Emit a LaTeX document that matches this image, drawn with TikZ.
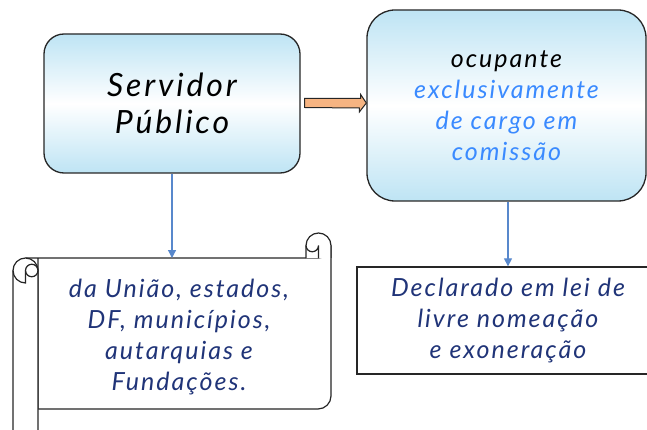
\documentclass[tikz,border=0pt]{standalone}
\usepackage{fontspec}
\setmainfont{Lato}[LetterSpace=8]
\newfontfamily\bigfam{Lato}[LetterSpace=9]
\usetikzlibrary{arrows.meta,calc}
\definecolor{navy}{RGB}{32,52,120}
\definecolor{brightblue}{RGB}{58,138,255}
\definecolor{boxblue}{RGB}{190,228,244}
\definecolor{linkblue}{RGB}{88,136,204}
\definecolor{peach}{RGB}{246,180,130}
\tikzset{
  gradbox/.style={draw=black!85, line width=1.3pt, top color=boxblue, bottom color=boxblue, middle color=white, align=center, inner sep=0pt},
  plainbox/.style={draw=black!85, line width=1.3pt, fill=white, align=center, inner sep=0pt},
  link/.style={draw=linkblue, line width=1.2pt, -{Triangle[length=8pt,width=8pt]}},
  scrollline/.style={draw=black!85, line width=1.2pt},
  bigtext/.style={font=\bigfam\fontsize{32}{37}\selectfont\itshape},
  midtext/.style={font=\fontsize{25}{31}\selectfont\itshape, align=center},
}
\begin{document}
\begin{tikzpicture}[x=1pt,y=-1pt]
\useasboundingbox (0,0) rectangle (647,430);
\clip (0,0) rectangle (647,430);
% top boxes
\node[gradbox, rounded corners=20pt, minimum width=256pt, minimum height=139pt, bigtext] (serv) at (172,103.5) {Servidor\\Público};
\node[gradbox, rounded corners=28pt, minimum width=279pt, minimum height=191pt, midtext] (ocup) at (506.5,105.5) {ocupante\\\textcolor{brightblue}{exclusivamente}\\\textcolor{brightblue}{de cargo em}\\\textcolor{brightblue}{comissão}};
% bottom right box
\node[plainbox, minimum width=302pt, minimum height=107pt, midtext, text=navy] (decl) at (508,320.5) {Declarado em lei de\\livre nomeação\\e exoneração};
% scroll
\draw[scrollline, fill=white] (25.5,258) -- (318.5,258) arc[start angle=90,end angle=0,radius=12.5] -- (331,396) arc[start angle=0,end angle=90,radius=13] -- (38,409) -- (38,258) -- cycle;
\draw[scrollline, fill=white] (13,440) -- (13,270.5) arc[start angle=180,end angle=360,radius=12.5] -- (38,440);
\draw[scrollline] (13,270.5) arc[start angle=180,end angle=90,radius=12.5] -- (25.5,270.5);
\draw[scrollline] (31.75,270.5) circle[radius=6.25];
\draw[scrollline, fill=white] (306,258) -- (306,245.5) arc[start angle=180,end angle=360,radius=12.5] -- (331,258);
\draw[scrollline] (306,245.5) arc[start angle=180,end angle=0,radius=6.25] -- (318.5,258);
\coordinate (scrolltop) at (172,258);
\node[midtext, text=navy] (scrolltext) at (179,337) {da União, estados,\\DF, municípios,\\autarquias e\\Fundações.};
% connectors
\draw[link] (serv.south) -- (scrolltop);
\draw[link] (ocup.south -| decl.north) -- (decl.north);
\draw[draw=black!85, line width=1pt, fill=peach] ($(serv.east)+(4,-5)$) -- ++(56,0) -- ++(0,-4) -- ($(ocup.west)+(0,-2.5)$) -- ++(-7,9) -- ++(0,-4) -- ($(serv.east)+(4,4)$) -- cycle;
\end{tikzpicture}
\end{document}
